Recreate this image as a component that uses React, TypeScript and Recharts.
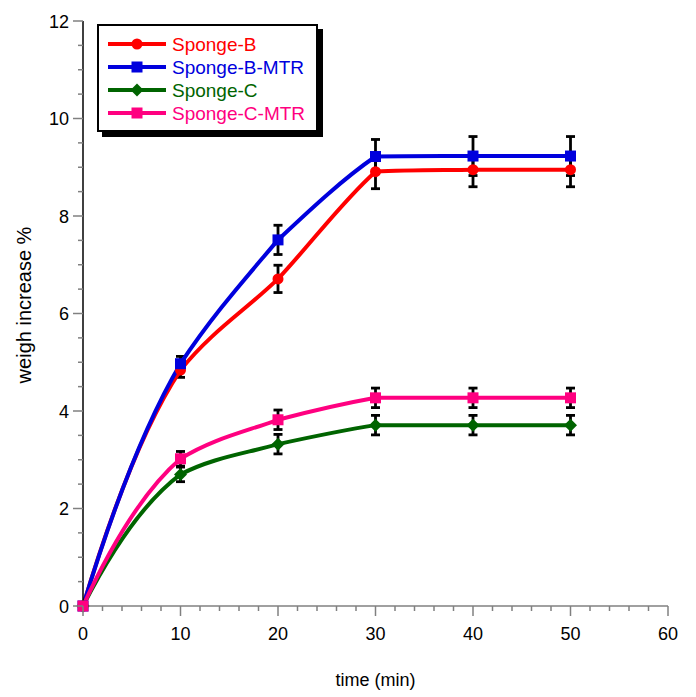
import React from 'react';
import { LineChart, Line, XAxis, YAxis, ErrorBar } from 'recharts';

const times = [0, 10, 20, 30, 40, 50];
const spongeB = [0, 4.84, 6.71, 8.91, 8.95, 8.95];
const spongeBErr = [0, 0.15, 0.28, 0.35, 0.35, 0.35];
const spongeBMTR = [0, 4.97, 7.51, 9.22, 9.23, 9.23];
const spongeBMTRErr = [0, 0.15, 0.3, 0.35, 0.4, 0.4];
const spongeC = [0, 2.7, 3.32, 3.71, 3.71, 3.71];
const spongeCErr = [0, 0.15, 0.2, 0.2, 0.2, 0.2];
const spongeCMTR = [0, 3.02, 3.82, 4.27, 4.27, 4.27];
const spongeCMTRErr = [0, 0.15, 0.2, 0.2, 0.2, 0.2];

const xTicks = [0, 2, 4, 6, 8, 10, 12, 14, 16, 18, 20, 22, 24, 26, 28, 30, 32, 34, 36, 38, 40, 42, 44, 46, 48, 50, 52, 54, 56, 58, 60];
const yTicks = [0, 0.5, 1, 1.5, 2, 2.5, 3, 3.5, 4, 4.5, 5, 5.5, 6, 6.5, 7, 7.5, 8, 8.5, 9, 9.5, 10, 10.5, 11, 11.5, 12];

const data = times.map((t, i) => ({
  t,
  b: spongeB[i], be: spongeBErr[i],
  bm: spongeBMTR[i], bme: spongeBMTRErr[i],
  c: spongeC[i], ce: spongeCErr[i],
  cm: spongeCMTR[i], cme: spongeCMTRErr[i],
}));

const series = [
  { key: 'b', err: 'be', name: 'Sponge-B', color: '#ff0000', shape: 'circle' },
  { key: 'bm', err: 'bme', name: 'Sponge-B-MTR', color: '#0000dd', shape: 'square' },
  { key: 'c', err: 'ce', name: 'Sponge-C', color: '#006400', shape: 'diamond' },
  { key: 'cm', err: 'cme', name: 'Sponge-C-MTR', color: '#ff0080', shape: 'square' },
];

const FONT = 'Liberation Sans, Arial, sans-serif';

// Spline curve: Catmull-Rom tangents blended with segment slope, clamped per segment
function clampedSpline(context: any) {
  let pts: [number, number][] = [];
  const alpha = 0.6;
  return {
    areaStart() {},
    areaEnd() {},
    lineStart() { pts = []; },
    point(x: number, y: number) { pts.push([+x, +y]); },
    lineEnd() {
      const n = pts.length;
      if (n === 0) return;
      context.moveTo(pts[0][0], pts[0][1]);
      if (n === 1) return;
      if (n === 2) { context.lineTo(pts[1][0], pts[1][1]); return; }
      const s: number[] = [];
      for (let i = 0; i < n - 1; i++) {
        const h = pts[i + 1][0] - pts[i][0];
        s.push(h === 0 ? 0 : (pts[i + 1][1] - pts[i][1]) / h);
      }
      const m: number[] = new Array(n).fill(0);
      for (let i = 1; i < n - 1; i++) {
        const h = pts[i + 1][0] - pts[i - 1][0];
        m[i] = h === 0 ? 0 : (pts[i + 1][1] - pts[i - 1][1]) / h;
      }
      m[n - 1] = (3 * s[n - 2] - m[n - 2]) / 2;
      const clamp = (v: number, sk: number) => {
        if (sk === 0) return 0;
        if (Math.sign(v) !== Math.sign(sk)) return 0;
        const lim = 3 * Math.abs(sk);
        return Math.abs(v) > lim ? Math.sign(sk) * lim : v;
      };
      const blend = (t: number, sk: number) => clamp(alpha * sk + (1 - alpha) * t, sk);
      for (let i = 0; i < n - 1; i++) {
        const [x0, y0] = pts[i];
        const [x1, y1] = pts[i + 1];
        const h = x1 - x0;
        let m0: number;
        let m1: number;
        if (i === 0) {
          m1 = clamp(m[1] * 0.9, s[0]);
          m0 = clamp(2 * s[0] - m1, s[0]);
        } else {
          m0 = blend(m[i], s[i]);
          m1 = i + 1 === n - 1 ? clamp(m[n - 1], s[i]) : blend(m[i + 1], s[i]);
        }
        context.bezierCurveTo(x0 + h / 3, y0 + (m0 * h) / 3, x1 - h / 3, y1 - (m1 * h) / 3, x1, y1);
      }
    },
  };
}

function Marker({ cx, cy, shape, color }: any) {
  if (cx == null || cy == null) return null;
  if (shape === 'circle') return <circle cx={cx} cy={cy} r={5.5} fill={color} />;
  if (shape === 'square') return <rect x={cx - 5.5} y={cy - 5.5} width={11} height={11} fill={color} />;
  return <polygon points={`${cx},${cy - 6.5} ${cx + 6.5},${cy} ${cx},${cy + 6.5} ${cx - 6.5},${cy}`} fill={color} />;
}

function XTick(props: any) {
  const { x, y, payload } = props;
  const v = payload.value;
  const major = v % 10 === 0;
  return (
    <g>
      <line x1={x} x2={x} y1={y} y2={y + (major ? 10 : 5)} stroke="#808080" strokeWidth={1.5} />
      {major && (
        <text x={x} y={y + 34} textAnchor="middle" fontSize={18} fontFamily={FONT} fill="#000">{v}</text>
      )}
    </g>
  );
}

function YTick(props: any) {
  const { x, y, payload } = props;
  const v = payload.value;
  const major = v % 2 === 0;
  return (
    <g>
      <line x1={x} x2={x - (major ? 10 : 5)} y1={y} y2={y} stroke="#808080" strokeWidth={1.5} />
      {major && (
        <text x={x - 14} y={y + 6.5} textAnchor="end" fontSize={18} fontFamily={FONT} fill="#000">{v}</text>
      )}
    </g>
  );
}

function YLabel() {
  return (
    <text transform="translate(31,305) rotate(-90)" textAnchor="middle" fontSize={20} fontFamily={FONT} fill="#000">
      weigh increase %
    </text>
  );
}

function LegendBox() {
  return (
    <div style={{
      position: 'absolute', left: 97, top: 24,
      width: 217, height: 104, border: '2px solid #000', background: '#fff',
      boxShadow: '5px 5px 0 #000', fontFamily: FONT,
    }}>
      <svg width={217} height={104} style={{ position: 'absolute', left: 0, top: 0 }}>
        {series.map((s, i) => {
          const cy = 18 + i * 23;
          return (
            <g key={s.key}>
              <line x1={9} x2={67} y1={cy} y2={cy} stroke={s.color} strokeWidth={4} />
              <Marker cx={38} cy={cy} shape={s.shape} color={s.color} />
              <text x={73} y={cy + 7} fontSize={19} fontFamily={FONT} fill={s.color}>{s.name}</text>
            </g>
          );
        })}
      </svg>
    </div>
  );
}

export default function App() {
  return (
    <div style={{ position: 'absolute', left: 0, top: 0, width: 696, height: 697, background: '#fff' }}>
      <LineChart width={696} height={697} data={data} margin={{ top: 21, right: 28, left: 0, bottom: 31 }}>
        <XAxis
          dataKey="t" type="number" domain={[0, 60]} ticks={xTicks} interval={0}
          tick={<XTick />} tickSize={0} tickMargin={0} tickLine={false}
          axisLine={{ stroke: '#808080', strokeWidth: 1.5 }} height={60}
          label={{ value: 'time (min)', position: 'insideBottom', offset: -20, fontSize: 18, fontFamily: FONT, fill: '#000' }}
        />
        <YAxis
          type="number" domain={[0, 12]} ticks={yTicks} interval={0}
          tick={<YTick />} tickSize={0} tickMargin={0} tickLine={false}
          axisLine={{ stroke: '#000', strokeWidth: 1.5 }} width={83}
          label={{ content: () => <YLabel /> }}
        />
        {series.map((s) => (
          <Line
            key={s.key} dataKey={s.key} name={s.name} type={clampedSpline as any} stroke={s.color} strokeWidth={4}
            isAnimationActive={false}
            dot={(p: any) => <Marker key={`${s.key}-${p.index}`} cx={p.cx} cy={p.cy} shape={s.shape} color={s.color} />}
            activeDot={false}
          >
            <ErrorBar dataKey={s.err} width={4.5} stroke="#000" strokeWidth={2.8} direction="y" />
          </Line>
        ))}
      </LineChart>
      <LegendBox />
    </div>
  );
}
